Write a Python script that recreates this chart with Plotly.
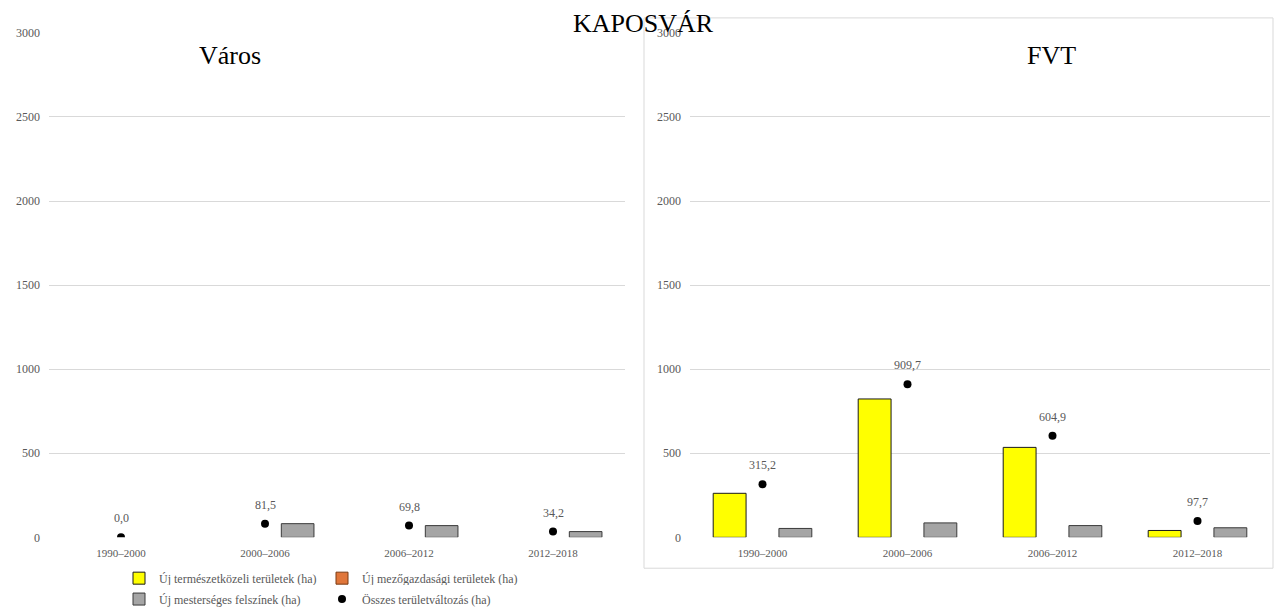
import plotly.graph_objects as go

periods = ["1990–2000", "2000–2006", "2006–2012", "2012–2018"]

# Város (city)
varos_natural = [0, 0, 0, 0]
varos_agri = [0, 0, 0, 0]
varos_artificial = [0, 81.5, 69.8, 34.2]
varos_total = [0.0, 81.5, 69.8, 34.2]

# FVT
fvt_natural = [262, 823, 535, 41]
fvt_agri = [0, 0, 0, 0]
fvt_artificial = [53, 86, 70, 57]
fvt_total = [315.2, 909.7, 604.9, 97.7]

names = ["Új természetközeli területek (ha)", "Új mezőgazdasági területek (ha)",
         "Új mesterséges felszínek (ha)", "Összes területváltozás (ha)"]
colors = ["#FFFF00", "#E0763A", "#A5A5A5", "#000000"]
outlines = ["#1a1a1a", "#7a3a12", "#3a3a3a"]
legends = ["legend", "legend", "legend2", "legend2"]

W, H = 1274, 614
FONT = "Liberation Serif, Times New Roman, serif"
GREY_TXT = "#595959"

fig = go.Figure()

panels = [
    ("x", "y", [varos_natural, varos_agri, varos_artificial], varos_total, True),
    ("x2", "y2", [fvt_natural, fvt_agri, fvt_artificial], fvt_total, False),
]

for xa, ya, bars, total, show in panels:
    for i, vals in enumerate(bars):
        # zero-height bars are left out so no outline stub is drawn
        fig.add_trace(go.Bar(
            x=periods, y=[v if v else None for v in vals], name=names[i],
            xaxis=xa, yaxis=ya,
            marker=dict(color=colors[i], line=dict(color=outlines[i], width=1)),
            showlegend=show, legend=legends[i], hoverinfo="skip"))
    fig.add_trace(go.Scatter(
        x=periods, y=total, name=names[3], xaxis=xa, yaxis=ya, mode="markers",
        marker=dict(color="#000000", size=8),
        showlegend=show, legend=legends[3]))
    for p, v in zip(periods, total):
        fig.add_annotation(x=p, y=v, xref=xa, yref=ya, yshift=19, showarrow=False,
                           text=f"{v:.1f}".replace(".", ","),
                           font=dict(family=FONT, size=12, color=GREY_TXT))

yax = dict(range=[0, 3000], tickvals=[0, 500, 1000, 1500, 2000, 2500, 3000],
           showgrid=True, gridcolor="#d9d9d9", gridwidth=1, zeroline=False,
           showline=False, ticks="", ticklabelstandoff=8,
           tickfont=dict(family=FONT, size=12, color=GREY_TXT),
           domain=[74 / H, 581 / H])
xax = dict(showgrid=False, zeroline=False, showline=False, ticks="",
           ticklabelstandoff=8,
           tickfont=dict(family=FONT, size=11, color=GREY_TXT))

leg = dict(orientation="h", x=322 / W, xanchor="center", yanchor="middle",
           entrywidth=158, itemwidth=30,
           font=dict(family=FONT, size=12, color=GREY_TXT))

fig.update_layout(
    width=W, height=H, template="none",
    paper_bgcolor="white", plot_bgcolor="white",
    margin=dict(l=0, r=0, t=0, b=0),
    barmode="group", bargap=0.32, bargroupgap=0,
    xaxis=dict(xax, domain=[49 / W, 625 / W], anchor="y"),
    xaxis2=dict(xax, domain=[690 / W, 1270 / W], anchor="y2"),
    yaxis=dict(yax, anchor="x"),
    yaxis2=dict(yax, anchor="x2"),
    legend=dict(leg, y=(H - 581) / H),
    legend2=dict(leg, y=(H - 602) / H),
    showlegend=True,
)

for txt, px_x, px_y in [("KAPOSVÁR", 643, 24), ("Város", 230, 56), ("FVT", 1051, 56)]:
    fig.add_annotation(text=txt, x=px_x / W, y=(H - px_y) / H, xref="paper", yref="paper",
                       xanchor="center", yanchor="middle", showarrow=False,
                       font=dict(family=FONT, size=26, color="#000000"))

# border around the FVT panel
fig.add_shape(type="rect", xref="paper", yref="paper",
              x0=644 / W, x1=1273 / W, y0=(H - 571) / H, y1=(H - 18) / H,
              line=dict(color="#d9d9d9", width=1), layer="below")

fig.write_html("out.html", config={"displayModeBar": False},
               post_script="document.body.style.margin='0';")
